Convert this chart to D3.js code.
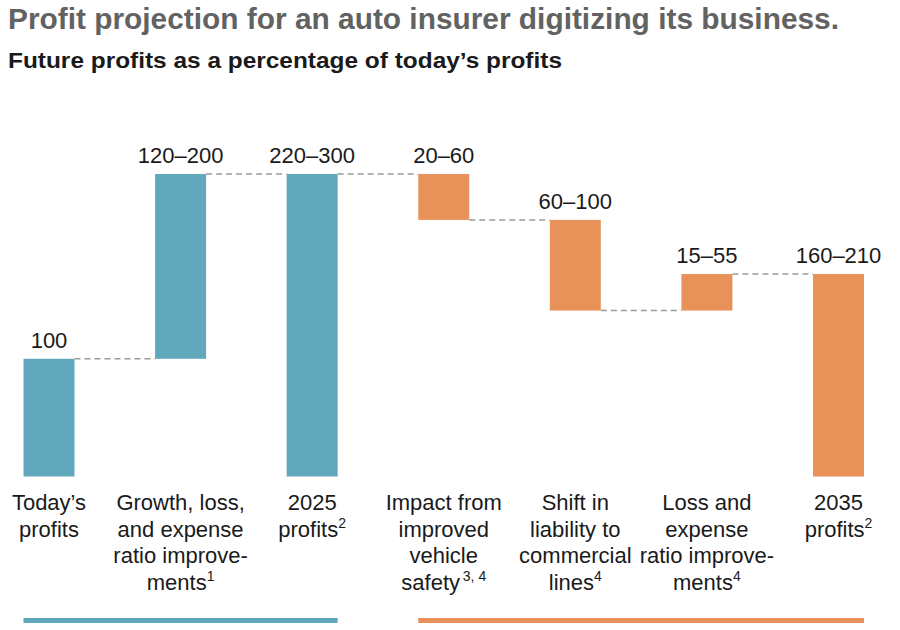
<!DOCTYPE html>
<html>
<head>
<meta charset="utf-8">
<script src="https://cdn.jsdelivr.net/npm/d3@7"></script>
<style>
  body { margin: 0; background: #fff; }
  svg { font-family: "Liberation Sans", Arial, sans-serif; }
</style>
</head>
<body>
<div id="chart"></div>
<script>
// Chart data.
var categories = ["today", "growth", "y2025", "safety", "liability", "loss", "y2035"];
var catLines = [
  ["Today’s", "profits"],
  ["Growth, loss,", "and expense", "ratio improve-", "ments"],
  ["2025", "profits"],
  ["Impact from", "improved", "vehicle", "safety"],
  ["Shift in", "liability to", "commercial", "lines"],
  ["Loss and", "expense", "ratio improve-", "ments"],
  ["2035", "profits"]
];
var catNotes = ["", "1", "2", "3, 4", "4", "4", "2"];
var rangeLabels = ["100", "120–200", "220–300", "20–60", "60–100", "15–55", "160–210"];
// step values: totals are marked "total", the rest are changes
var stepValues = [100, 157, "total", -39, -77, 31, "total"];
var groups = ["blue", "blue", "blue", "orange", "orange", "orange", "orange"];

var colors = { blue: "#62a8bc", orange: "#e8925a" };

// Build waterfall segments.
function buildSteps() {
  var run = 0;
  return categories.map(function(c, i) {
    var v = stepValues[i];
    var s;
    if (v === "total") {
      s = { start: 0, end: run };
    } else {
      s = { start: run, end: run + v };
      run = run + v;
    }
    s.key = c;
    s.i = i;
    return s;
  });
}

var steps = buildSteps();

var svg = d3.select("#chart").append("svg")
  .attr("width", 900)
  .attr("height", 630);

// Titles
svg.append("text")
  .attr("x", 8).attr("y", 29)
  .attr("font-size", 29).attr("font-weight", "bold")
  .attr("fill", "#626262")
  .attr("textLength", 831).attr("lengthAdjust", "spacingAndGlyphs")
  .text("Profit projection for an auto insurer digitizing its business.");

svg.append("text")
  .attr("x", 8).attr("y", 68)
  .attr("font-size", 22.5).attr("font-weight", "bold")
  .attr("fill", "#1a1a1a")
  .attr("textLength", 554).attr("lengthAdjust", "spacingAndGlyphs")
  .text("Future profits as a percentage of today’s profits");

// Scales
var x = d3.scalePoint()
  .domain(categories)
  .range([49, 838.5]);
var barW = 51;

var y = d3.scaleLinear()
  .domain([0, 300])
  .range([476.5, 123.4]);

// dashed connectors
var links = steps.slice(0, -1).map(function(s, i) {
  return { from: s, to: steps[i + 1], level: steps[i + 1].start === 0 ? steps[i + 1].end : steps[i + 1].start };
});

svg.selectAll(".link")
  .data(links)
  .enter().append("line")
  .attr("class", "link")
  .attr("x1", function(d) { return x(d.from.key) + barW / 2; })
  .attr("x2", function(d) { return x(d.to.key) - barW / 2; })
  .attr("y1", function(d) { return y(d.level); })
  .attr("y2", function(d) { return y(d.level); })
  .attr("stroke", "#9a9a9a")
  .attr("stroke-width", 1.5)
  .attr("stroke-dasharray", "6,4");

// bars
svg.selectAll(".bar")
  .data(steps)
  .enter().append("rect")
  .attr("class", "bar")
  .attr("x", function(d) { return x(d.key) - barW / 2; })
  .attr("width", barW)
  .attr("y", function(d) { return y(Math.max(d.start, d.end)); })
  .attr("height", function(d) { return Math.abs(y(d.start) - y(d.end)); })
  .attr("fill", function(d) { return colors[groups[d.i]]; });

// range labels above bars
svg.selectAll(".val")
  .data(steps)
  .enter().append("text")
  .attr("class", "val")
  .attr("x", function(d) { return x(d.key); })
  .attr("y", function(d) { return y(Math.max(d.start, d.end)) - 11; })
  .attr("text-anchor", "middle")
  .attr("font-size", 22)
  .attr("fill", "#1a1a1a")
  .text(function(d) { return rangeLabels[d.i]; });

// category labels
var lineH = 26.5;
var cats = svg.selectAll(".cat")
  .data(steps)
  .enter().append("text")
  .attr("class", "cat")
  .attr("text-anchor", "middle")
  .attr("font-size", 22)
  .attr("fill", "#1a1a1a");

cats.each(function(d) {
  var t = d3.select(this);
  var lines = catLines[d.i];
  lines.forEach(function(l, j) {
    var last = j === lines.length - 1;
    var ts = t.append("tspan")
      .attr("x", x(d.key))
      .attr("y", 510 + j * lineH);
    if (last && catNotes[d.i]) {
      ts.append("tspan").text(l);
      ts.append("tspan")
        .attr("font-size", 14)
        .attr("dy", -9)
        .text((catNotes[d.i].indexOf(",") > -1 ? "\u2009" : "") + catNotes[d.i]);
    } else {
      ts.text(l);
    }
  });
});

// group underlines
var groupSpans = [
  { g: "blue", from: categories[0], to: categories[2] },
  { g: "orange", from: categories[3], to: categories[6] }
];

svg.selectAll(".under")
  .data(groupSpans)
  .enter().append("line")
  .attr("class", "under")
  .attr("x1", function(d) { return x(d.from) - barW / 2; })
  .attr("x2", function(d) { return x(d.to) + barW / 2; })
  .attr("y1", 620.5).attr("y2", 620.5)
  .attr("stroke", function(d) { return colors[d.g]; })
  .attr("stroke-width", 5);
</script>
</body>
</html>
